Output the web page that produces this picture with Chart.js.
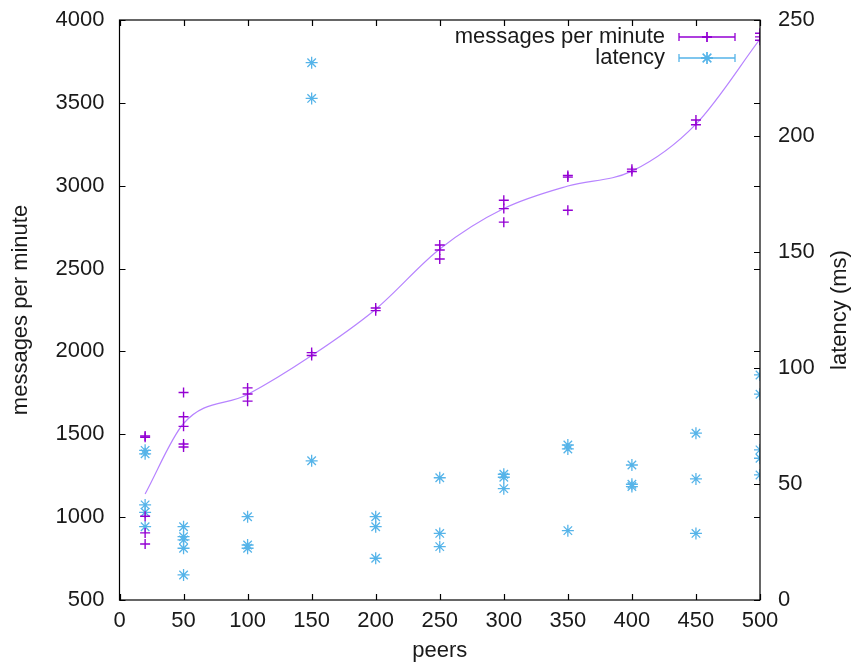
<!DOCTYPE html>
<html lang="en">
    <head>
        <title> peers </title>
        <style>
            body { margin: 0; background: #fff; }
            #box { width: 853px; height: 664px; }
        </style>
        <script src="https://cdn.jsdelivr.net/npm/chart.js@4.4.1/dist/chart.umd.min.js"></script>
    </head>

    <body>
        <div id="box"><canvas id="myChart"></canvas></div>

        <script>

            // runs per peer count
            const peers = [20, 50, 100, 150, 200, 250, 300, 350, 400, 450, 500];

            const messagesPerMinute = [
                [1490, 1482, 1005, 905, 838],
                [1752, 1606, 1548, 1441, 1423],
                [1780, 1743, 1700],
                [1993, 1975],
                [2262, 2246],
                [2642, 2612, 2558],
                [2912, 2862, 2780],
                [3062, 3052, 2852],
                [3100, 3086],
                [3397, 3368],
                [3920, 3898, 3878]
            ];

            const latencyMs = [
                [64.5, 63, 41, 37.8, 31.6],
                [31.6, 27.3, 25.9, 22.3, 10.8],
                [35.9, 23.7, 22.3],
                [231.6, 216.2, 60],
                [35.9, 31.6, 18],
                [52.7, 28.7, 23],
                [54.2, 52.9, 48],
                [66.8, 65.1, 29.9],
                [58.2, 49.9, 48.9],
                [71.9, 52.2, 28.7],
                [97, 88.7, 64.7, 61.1, 53.9]
            ];

            // smoothed messages curve
            const messagesSmooth = [1140, 1565, 1740, 1975, 2255, 2618, 2862, 2998, 3088, 3372, 3885];

            const leftTicks = { min: 500, max: 4000, step: 500 };
            const rightTicks = { min: 0, max: 250, step: 50 };
            const xTicks = { min: 0, max: 500, step: 50 };

            const PURPLE = '#9400d3';
            const BLUE = '#56b4e9';
            const TEXT = '#1a1a1a';
            const FONT = "'Liberation Sans', Arial, sans-serif";
            const FONT_SIZE = 22;

            Chart.defaults.font.family = FONT;
            Chart.defaults.font.size = FONT_SIZE;
            Chart.defaults.color = TEXT;

            const toPoints = (runs) => peers.flatMap ((p, i) => runs[i].map (v => ({ x: p, y: v })));
            const plain = (v) => String (v);

            // gnuplot style frame: border, inward ticks, legend, right title
            const gnuplotFrame = {
                id: 'gnuplotFrame',
                afterDraw (chart) {
                    const ctx = chart.ctx;
                    const { left, right, top, bottom } = chart.chartArea;
                    const sx = chart.scales.x, sy = chart.scales.y, sy2 = chart.scales.y2;
                    const tl = 6;

                    ctx.save ();
                    ctx.strokeStyle = '#000';
                    ctx.lineWidth = 1.2;
                    ctx.beginPath ();
                    sx.ticks.forEach (t => {
                        const px = Math.round (sx.getPixelForValue (t.value)) + 0.5;
                        ctx.moveTo (px, bottom); ctx.lineTo (px, bottom - tl);
                        ctx.moveTo (px, top); ctx.lineTo (px, top + tl);
                    });
                    sy.ticks.forEach (t => {
                        const py = Math.round (sy.getPixelForValue (t.value)) + 0.5;
                        ctx.moveTo (left, py); ctx.lineTo (left + tl, py);
                        ctx.moveTo (right, py); ctx.lineTo (right - tl, py);
                    });
                    sy2.ticks.forEach (t => {
                        const py = Math.round (sy2.getPixelForValue (t.value)) + 0.5;
                        ctx.moveTo (right, py); ctx.lineTo (right - tl, py);
                    });
                    ctx.stroke ();
                    ctx.strokeRect (left, top, right - left, bottom - top);

                    // legend
                    ctx.font = `${ FONT_SIZE }px ${ FONT }`;
                    ctx.textAlign = 'right';
                    ctx.textBaseline = 'middle';
                    const rows = [
                        { ds: chart.data.datasets[0], y: 37 },
                        { ds: chart.data.datasets[1], y: 58 }
                    ];
                    rows.forEach (r => {
                        ctx.fillStyle = TEXT;
                        ctx.fillText (r.ds.label, 665, r.y);
                        ctx.strokeStyle = r.ds.borderColor;
                        ctx.lineWidth = 1.3;
                        ctx.beginPath ();
                        ctx.moveTo (679, r.y); ctx.lineTo (735, r.y);
                        ctx.moveTo (679, r.y - 4); ctx.lineTo (679, r.y + 4);
                        ctx.moveTo (735, r.y - 4); ctx.lineTo (735, r.y + 4);
                        ctx.stroke ();
                        Chart.helpers.drawPoint (ctx, { pointStyle: r.ds.pointStyle, radius: r.ds.pointRadius, rotation: 0, borderWidth: 1.3 }, 707, r.y);
                        ctx.stroke ();
                    });

                    // right axis title, reading bottom to top
                    ctx.translate (840, 310);
                    ctx.rotate (-Math.PI / 2);
                    ctx.textAlign = 'center';
                    ctx.fillStyle = TEXT;
                    ctx.fillText ('latency (ms)', 0, 0);
                    ctx.restore ();
                }
            };

            new Chart (document.getElementById ('myChart'), {
                type: 'scatter',
                data: {
                    datasets: [
                        {
                            label: 'messages per minute',
                            data: toPoints (messagesPerMinute),
                            yAxisID: 'y',
                            pointStyle: 'cross',
                            pointRadius: 5,
                            pointBorderWidth: 1.4,
                            borderColor: PURPLE,
                            backgroundColor: PURPLE
                        },
                        {
                            label: 'latency',
                            data: toPoints (latencyMs),
                            yAxisID: 'y2',
                            pointStyle: 'star',
                            pointRadius: 6,
                            pointBorderWidth: 1.3,
                            borderColor: BLUE,
                            backgroundColor: BLUE
                        },
                        {
                            label: 'smooth',
                            type: 'line',
                            data: peers.map ((p, i) => ({ x: p, y: messagesSmooth[i] })),
                            yAxisID: 'y',
                            showLine: true,
                            pointRadius: 0,
                            borderWidth: 1.2,
                            borderColor: '#b784ff',
                            cubicInterpolationMode: 'monotone',
                            fill: false
                        }
                    ]
                },
                options: {
                    responsive: true,
                    maintainAspectRatio: false,
                    animation: false,
                    layout: { padding: { top: 20, left: 0, right: 0, bottom: 0 } },
                    plugins: {
                        legend: { display: false },
                        tooltip: { enabled: false }
                    },
                    scales: {
                        x: {
                            type: 'linear',
                            position: 'bottom',
                            min: xTicks.min,
                            max: xTicks.max,
                            grid: { display: false, drawTicks: false },
                            border: { display: false },
                            ticks: { stepSize: xTicks.step, padding: 8, maxRotation: 0, callback: plain },
                            title: { display: true, text: 'peers', padding: { top: 0, bottom: 0 } },
                            afterFit: (s) => { s.height = 64; }
                        },
                        y: {
                            position: 'left',
                            min: leftTicks.min,
                            max: leftTicks.max,
                            grid: { display: false, drawTicks: false },
                            border: { display: false },
                            ticks: { stepSize: leftTicks.step, padding: 15, callback: plain },
                            title: { display: true, text: 'messages per minute', padding: { top: 8, bottom: 0 } },
                            afterFit: (s) => { s.width = 119.5; s.paddingTop = 10; s.paddingBottom = 10; }
                        },
                        y2: {
                            position: 'right',
                            min: rightTicks.min,
                            max: rightTicks.max,
                            grid: { display: false, drawTicks: false },
                            border: { display: false },
                            ticks: { stepSize: rightTicks.step, padding: 18, callback: plain },
                            afterFit: (s) => { s.width = 93; s.paddingTop = 10; s.paddingBottom = 10; }
                        }
                    }
                },
                plugins: [gnuplotFrame]
            });

        </script>
    </body>
</html>
